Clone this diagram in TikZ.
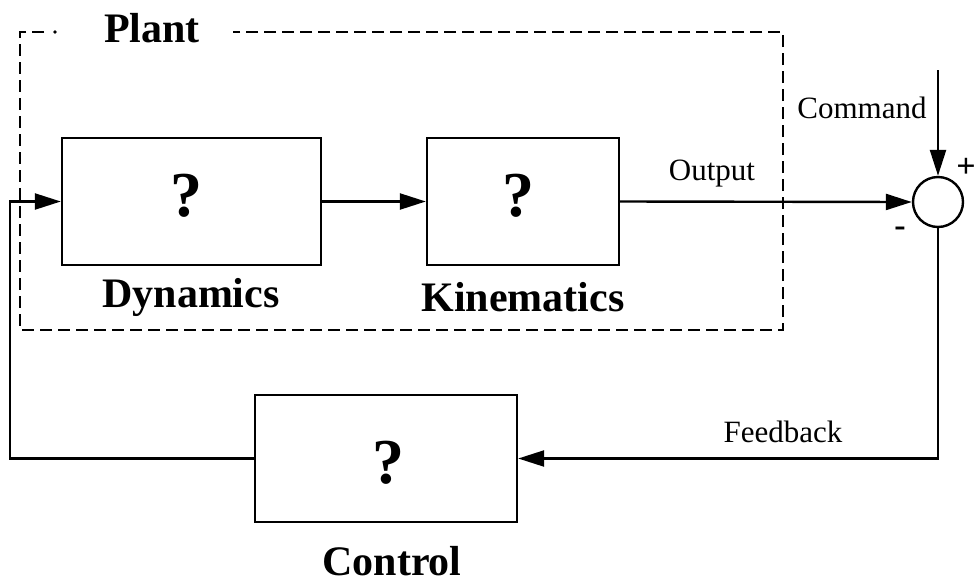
\documentclass[tikz,border=0pt]{standalone}
\usepackage{fontspec}
\setmainfont{Liberation Serif}
\usetikzlibrary{arrows.meta}
\begin{document}
\begin{tikzpicture}[x=1pt,y=-1pt,
  line width=2.4pt,
  blk/.style={draw,line width=2.4pt,minimum width=#1,minimum height=127pt,inner sep=0pt},
  qm/.style={font=\bfseries\fontsize{64}{70}\selectfont,inner sep=0pt},
  bigl/.style={font=\bfseries\fontsize{42}{48}\selectfont,inner sep=0pt},
  smalll/.style={font=\fontsize{31}{36}\selectfont,inner sep=0pt},
  arr/.style={-{Triangle[length=26pt,width=16pt]}},
  dsh/.style={line width=2.6pt,dash pattern=on 12pt off 6pt}]
\useasboundingbox (0,0) rectangle (977,584);
% plant dashed frame
\draw[dsh] (44,32) -- (20,32) -- (20,330) -- (783,330) -- (783,32) -- (233,32);
\fill (55,32) circle (1.8pt);
\node[bigl] (plant) at (152,28) {Plant};
% blocks
\node[blk=259pt] (dyn) at (191.5,201.5) {};
\node[qm] (dynq) at (186,196) {?};
\node[bigl] (dynl) at (191,297) {Dynamics};
\node[blk=192pt] (kin) at (523,201.5) {};
\node[qm] (kinq) at (518,196) {?};
\node[bigl] (kinl) at (523,297) {Kinematics};
\node[blk=262pt] (ctl) at (386,458.5) {};
\node[qm] (ctlq) at (388,463) {?};
\node[bigl] (ctll) at (392,561) {Control};
% summing junction
\node[draw,circle,line width=2.4pt,minimum size=50pt,inner sep=0pt] (sum) at (938,202) {};
\coordinate (cmd) at (938,70);
\node[smalll] (cmdl) at (862,108) {Command};
\node[font=\bfseries\fontsize{34}{38}\selectfont,inner sep=0pt] (plus) at (966,168) {+};
\node[font=\bfseries\fontsize{34}{38}\selectfont,inner sep=0pt] (minus) at (900,232) {-};
\node[smalll] (outl) at (712,174) {Output};
\node[smalll] (fbl) at (783,432) {Feedback};
% connectors
\draw[arr] (dyn.east) -- (kin.west);
\draw[arr] (kin.east) -- (sum.west);
\draw[arr] (cmd) -- (sum.north);
\draw[arr] (sum.south) |- (ctl.east);
\draw[arr] (ctl.west) -| (10,201.5) -- (dyn.west);
\end{tikzpicture}
\end{document}
